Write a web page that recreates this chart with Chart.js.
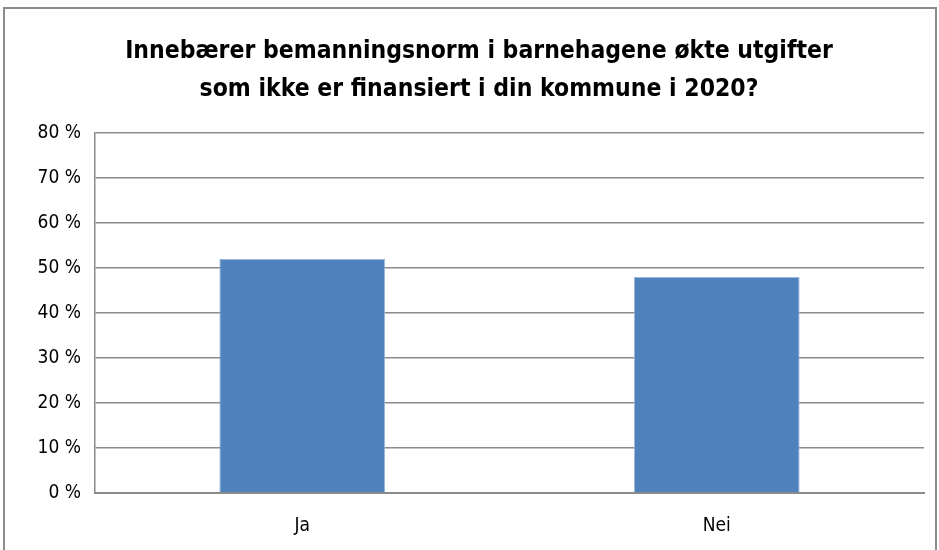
<!DOCTYPE html>
<html>
<head>
<meta charset="utf-8">
<script src="https://cdn.jsdelivr.net/npm/chart.js@4"></script>
<style>
  html, body { margin: 0; padding: 0; background: #fff; }
  #wrap { width: 939px; height: 550px; }
</style>
</head>
<body>
<div id="wrap"><canvas id="barChart" width="939" height="550"></canvas></div>
<script>
// Données
const categories = ['Ja', 'Nei'];
const values = [52, 48];
const yTicks = [0, 10, 20, 30, 40, 50, 60, 70, 80];
const titleLines = ['Innebærer bemanningsnorm i barnehagene økte utgifter', 'som ikke er finansiert i din kommune i 2020?'];

const FONT = "'Liberation Sans Narrow', 'DejaVu Sans Condensed', sans-serif";

// cadre autour du graphique
const frame = {
    id: 'frame',
    beforeDraw(chart) {
        const c = chart.ctx;
        c.save();
        c.fillStyle = '#fff';
        c.fillRect(0, 0, chart.width, chart.height);
        c.strokeStyle = '#8c8c8c';
        c.lineWidth = 2;
        c.strokeRect(4, 8, 932, 560);
        c.restore();
    }
};

const ctx = document.getElementById('barChart').getContext('2d');
const barChart = new Chart(ctx, {
    type: 'bar',
    data: {
        labels: categories,
        datasets: [{
            label: 'Andel',
            data: values,
            backgroundColor: '#4f81bd',
            borderColor: '#9bb7dc',
            borderWidth: 1,
            categoryPercentage: 0.4,
            barPercentage: 1
        }]
    },
    options: {
        responsive: false,
        animation: false,
        layout: { padding: { left: 34, right: 15, top: 0, bottom: 0 } },
        plugins: {
            legend: { display: false },
            tooltip: { enabled: false },
            title: {
                display: true,
                text: titleLines,
                color: '#000',
                font: { family: FONT, size: 24.5, weight: 'bold', lineHeight: 1.55 },
                padding: { top: 33, bottom: 24 }
            }
        },
        scales: {
            x: {
                grid: { display: false, drawTicks: false },
                border: { color: '#8a8a8a', width: 2 },
                ticks: { color: '#000', padding: 22, font: { family: FONT, size: 19 } },
                afterFit(scale) { scale.height = 57; }
            },
            y: {
                min: 0,
                max: 80,
                afterBuildTicks(scale) { scale.ticks = yTicks.map(v => ({ value: v })); },
                grid: { color: '#8a8a8a', lineWidth: 1.5, drawTicks: false },
                border: { color: '#8a8a8a', width: 1.5 },
                ticks: {
                    color: '#000',
                    padding: 14,
                    font: { family: FONT, size: 19 },
                    callback: v => v + ' %'
                },
                afterFit(scale) { scale.width = 61; }
            }
        }
    },
    plugins: [frame]
});
</script>
</body>
</html>
